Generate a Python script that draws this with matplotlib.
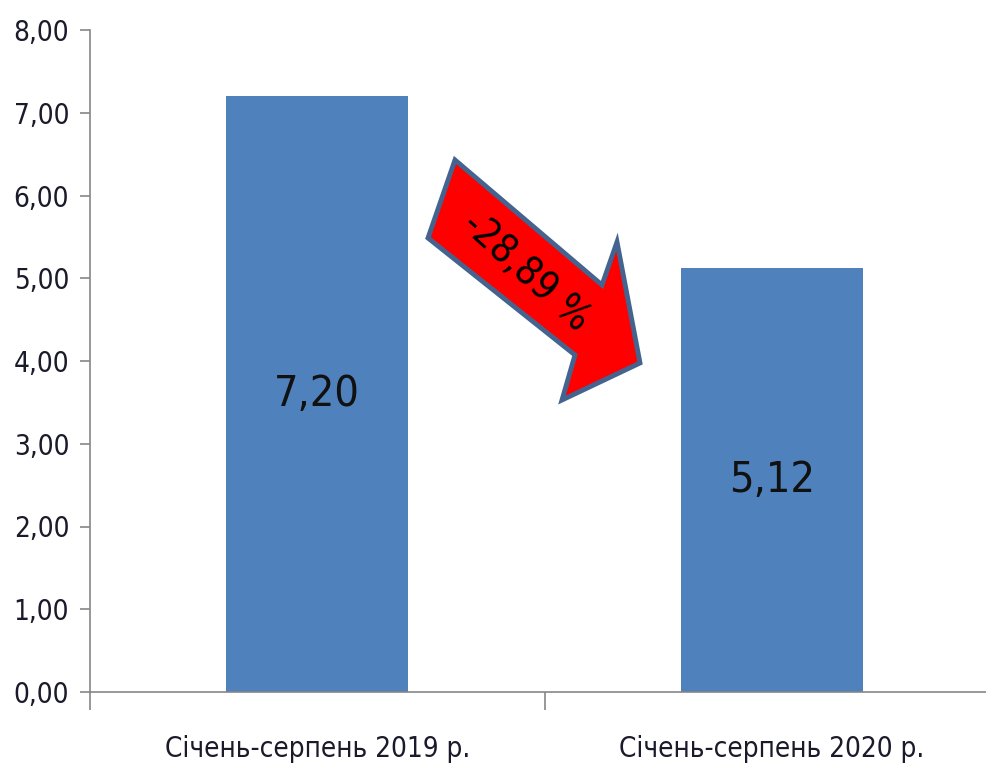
import matplotlib
matplotlib.use("Agg")
import matplotlib.pyplot as plt
from matplotlib.patches import Polygon

# ------ DATA -------
categories = ["Січень-серпень 2019 р.", "Січень-серпень 2020 р."]
values = [7.20, 5.12]
change_label = "-28,89 %"
y_ticks = [0, 1, 2, 3, 4, 5, 6, 7, 8]

plt.rcParams['font.family'] = ['Liberation Sans Narrow', 'DejaVu Sans']
plt.rcParams['font.stretch'] = 'condensed'

W, H = 987, 771
fig = plt.figure(figsize=(W / 100, H / 100), dpi=100)
ax = fig.add_axes([90 / W, 79 / H, 909 / W, 662 / H])

x = range(len(categories))
ax.bar(x, values, width=0.4, color='#4F81BD')
ax.set_xlim(-0.5, len(categories) - 0.5)
ax.set_ylim(0, 8)

for xi, v in zip(x, values):
    ax.text(xi, v / 2, f"{v:.2f}".replace('.', ','), ha='center', va='center',
            fontsize=31, color='#111111')

ax.set_yticks(y_ticks)
ax.set_yticklabels([f"{t:.2f}".replace('.', ',') for t in y_ticks],
                   fontsize=20, color='#1a1a2a')
ax.set_xticks([0, 1])
ax.set_xticklabels(categories, fontsize=20, color='#1a1a2a')
ax.set_xticks([-0.5, 0.5, 1.5], minor=True)
ax.tick_params(axis='x', which='major', length=0, pad=31)
ax.tick_params(axis='x', which='minor', length=13, color='#868686', width=1.2)
ax.tick_params(axis='y', length=7, color='#868686', width=1.2, pad=8)

for s in ['top', 'right']:
    ax.spines[s].set_visible(False)
for s in ['left', 'bottom']:
    ax.spines[s].set_color('#868686')
    ax.spines[s].set_linewidth(1.2)

# arrow annotation, outline (pixel coords, y from top)
arrow_px = [(455, 160), (602, 285), (617, 242), (640, 363),
            (562, 400), (575, 355), (428, 238)]
arrow_fig = [(px / W, 1 - py / H) for px, py in arrow_px]
fig.patches.append(Polygon(arrow_fig, closed=True, transform=fig.transFigure,
                           facecolor='#FF0000', edgecolor='#44648F',
                           linewidth=3.5, joinstyle='miter', zorder=5))
fig.text(526 / W, 1 - 272 / H, change_label, rotation=-42, fontsize=28,
         ha='center', va='center', color='black', zorder=6,
         rotation_mode='anchor')

fig.savefig("out.png", dpi=100)
